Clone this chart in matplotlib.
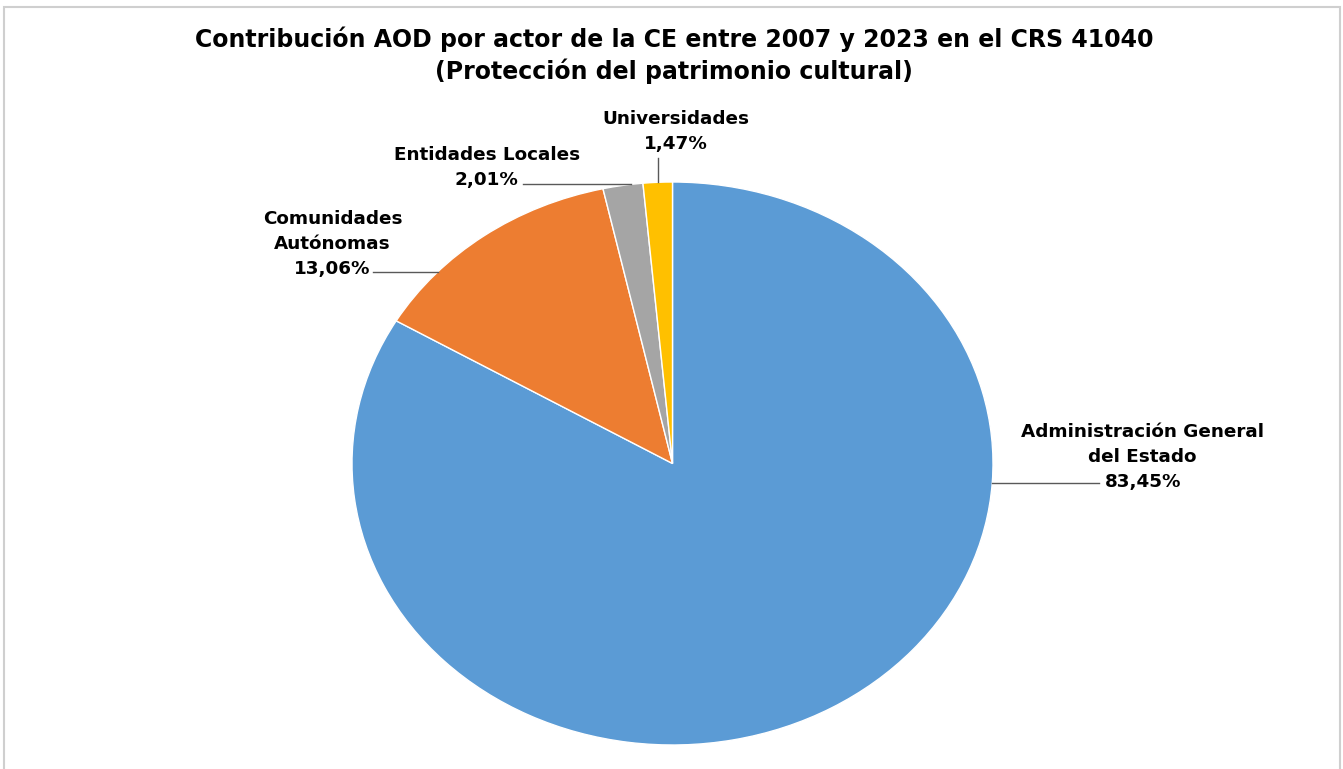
import numpy as np
import matplotlib
matplotlib.use('Agg')
import matplotlib.pyplot as plt
from matplotlib.patches import Rectangle

# ---------------------------------------------------------------------------
# Data
# ---------------------------------------------------------------------------

ACTORS = ['Administración General\ndel Estado', 'Comunidades\nAutónomas',
          'Entidades Locales', 'Universidades']
SHARES = [83.45, 13.06, 2.01, 1.47]
COLORS = ['#5B9BD5', '#ED7D31', '#A5A5A5', '#FFC000']

TITLE = ('Contribución AOD por actor de la CE entre 2007 y 2023 en el CRS 41040\n'
         '(Protección del patrimonio cultural)')

plt.rcParams['font.family'] = ['DejaVu Sans']

W, H = 1343, 769
fig = plt.figure(figsize=(W / 100, H / 100), dpi=100, facecolor='white')

# chart frame
fig.patches.append(Rectangle((4 / W, -0.05), 1336 / W, 1.05 - 7 / H,
                             transform=fig.transFigure, fill=False,
                             edgecolor='#CFCFCF', linewidth=1.5))

fig.text(674 / W, 1 - 55 / H, TITLE, ha='center', va='center',
         fontsize=17, fontweight='bold', color='black', linespacing=1.3)

# axes box = bounding box of the (slightly stretched) pie
ax = fig.add_axes([352 / W, 24 / H, 641 / W, 563 / H])
wedges, _ = ax.pie(SHARES, colors=COLORS, startangle=90, counterclock=False,
                   radius=1, wedgeprops=dict(edgecolor='white', linewidth=1))
ax.set_aspect('auto')
ax.set_xlim(-1, 1)
ax.set_ylim(-1, 1)
ax.axis('off')

# label layout: text centre, leader end, angle where leader meets the pie
label_xy = [(1.467, 0.022), (-1.061, 0.778), (-0.580, 1.051), (0.009, 1.181)]
leader_end = [(1.33, None), (-0.933, None), (-0.468, None), (None, 1.087)]
attach_deg = [-3.9, 137.0, 97.5, None]

for i, (w, lab, val) in enumerate(zip(wedges, ACTORS, SHARES)):
    txt = f'{lab}\n{val:.2f}%'.replace('.', ',')
    tx, ty = label_xy[i]
    ax.text(tx, ty, txt, ha='center', va='center', fontsize=13.2,
            fontweight='bold', linespacing=1.5, clip_on=False)
    ang = attach_deg[i]
    if ang is None:
        ang = (w.theta1 + w.theta2) / 2
    ax_, ay_ = np.cos(np.radians(ang)), np.sin(np.radians(ang))
    ex, ey = leader_end[i]
    if ey is None:
        ax.plot([ax_, ex], [ay_, ay_], color='#595959', lw=1, clip_on=False)
    else:
        ax.plot([ax_, ax_], [ay_, ey], color='#595959', lw=1, clip_on=False)

fig.savefig('out.png', dpi=100, facecolor='white')
